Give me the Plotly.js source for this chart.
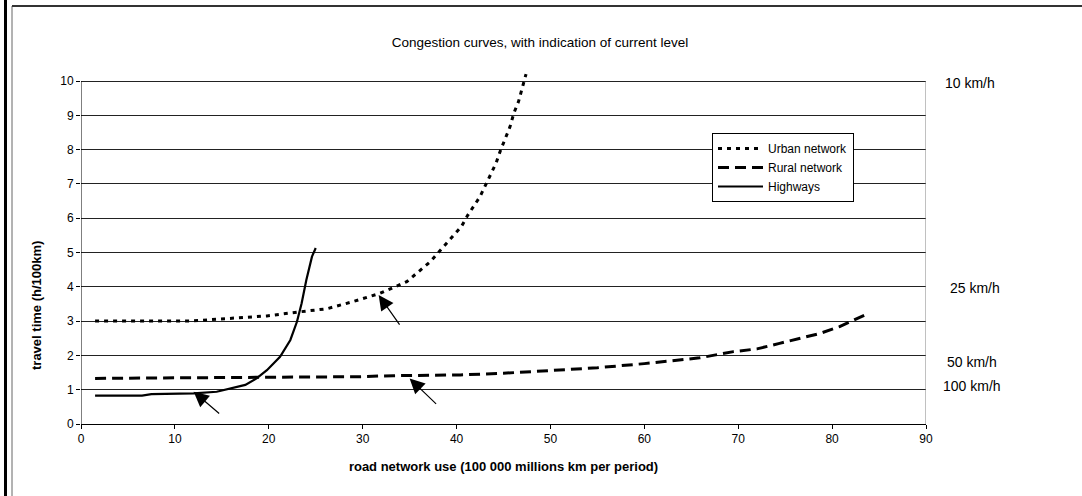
<!DOCTYPE html>
<html><head><meta charset="utf-8">
<script src="https://cdn.plot.ly/plotly-3.0.1.min.js"></script>
<style>html,body{margin:0;padding:0;background:#fff}#chart{width:1082px;height:496px}</style>
</head><body><div id="chart"></div>
<script>
// ---- data ----
const urbanX = [1.5, 5, 10, 11.6, 14.8, 19.8, 23.3, 26.2, 29.0, 31.85, 34.7, 37.2, 40.5, 41.2, 42.5, 43.1, 44.2, 44.7, 45.7, 46.1, 46.6, 47.4];
const urbanY = [3.0, 3.0, 3.0, 3.0, 3.06, 3.15, 3.27, 3.36, 3.57, 3.81, 4.15, 4.73, 5.75, 6.09, 6.63, 6.97, 7.6, 7.99, 8.67, 9.06, 9.4, 10.2];

const ruralX = [1.5, 10, 20, 29.7, 33.3, 40.4, 45, 50, 55, 60, 65.9, 69.5, 72, 74.4, 76.6, 78.7, 80.8, 83.5];
const ruralY = [1.33, 1.34, 1.36, 1.38, 1.41, 1.43, 1.48, 1.55, 1.64, 1.76, 1.93, 2.11, 2.19, 2.35, 2.5, 2.64, 2.84, 3.18];

const highwayX = [1.5, 6.5, 7.5, 12, 14.45, 15.9, 17.5, 18.7, 19.8, 21.2, 22.3, 23.0, 23.5, 24.0, 24.6, 25.0];
const highwayY = [0.83, 0.83, 0.87, 0.89, 0.94, 1.04, 1.14, 1.33, 1.57, 1.96, 2.45, 2.98, 3.52, 4.2, 4.88, 5.13];

const seriesNames = ['Urban network', 'Rural network', 'Highways'];

// current level per network (arrow tips)
const currentX = [31.7, 35.0, 12.0];
const currentY = [3.76, 1.33, 0.94];

const xTicks = [0, 10, 20, 30, 40, 50, 60, 70, 80, 90];
const yTicks = [0, 1, 2, 3, 4, 5, 6, 7, 8, 9, 10];

const speedLabels = ['10 km/h', '25 km/h', '50 km/h', '100 km/h'];

// ---- layout helpers ----
const W = 1082, H = 496;
const M = {l: 81, r: 156, t: 71, b: 72};
const PW = W - M.l - M.r, PH = H - M.t - M.b;
const px = v => (v - M.l) / PW;        // pixel x -> paper
const py = v => (H - M.b - v) / PH;    // pixel y -> paper

const FONT = 'Arial, "Liberation Sans", sans-serif';

const traces = [
  {x: urbanX, y: urbanY, name: seriesNames[0], mode: 'lines',
   line: {color: '#000', width: 3, dash: '4px,5px'}},
  {x: ruralX, y: ruralY, name: seriesNames[1], mode: 'lines',
   line: {color: '#000', width: 3, dash: '11px,6px'}},
  {x: highwayX, y: highwayY, name: seriesNames[2], mode: 'lines',
   line: {color: '#000', width: 2.2}}
];

const arrowOffsets = [[22, 31], [28, 27], [27, 23]];
const annotations = currentX.map((x, i) => ({
  x: x, y: currentY[i], xref: 'x', yref: 'y', text: '',
  showarrow: true, arrowhead: 2, arrowsize: 2.5, arrowwidth: 1.2,
  arrowcolor: '#000', ax: arrowOffsets[i][0], ay: arrowOffsets[i][1], standoff: 0
}));

const speedPos = [[943, 9.94], [948, 3.97], [945, 1.81], [941, 1.11]];
speedLabels.forEach((t, i) => annotations.push({
  text: t, xref: 'paper', yref: 'y', x: px(speedPos[i][0]), y: speedPos[i][1],
  xanchor: 'left', yanchor: 'middle', showarrow: false,
  font: {family: FONT, size: 14, color: '#000'}
}));

// y axis title (placed as in the reference, below the plot centre)
annotations.push({
  text: '<b>travel time (h/100km)</b>', textangle: -90,
  xref: 'paper', yref: 'paper', x: px(36), y: py(306),
  xanchor: 'center', yanchor: 'middle', showarrow: false,
  font: {family: FONT, size: 13, color: '#000'}
});

const shapes = [
  // y axis line 0..10
  {type: 'line', xref: 'x', yref: 'y', x0: 0, x1: 0, y0: 0, y1: 10, line: {color: '#000', width: 1}},
  // right border of plot area
  {type: 'line', xref: 'x', yref: 'y', x0: 90, x1: 90, y0: 0, y1: 10, line: {color: '#808080', width: 1}},
  // outer frame
  {type: 'line', xref: 'paper', yref: 'paper', x0: px(5.5), x1: px(5.5), y0: py(0), y1: py(H), line: {color: '#000', width: 3}},
  {type: 'line', xref: 'paper', yref: 'paper', x0: px(12), x1: px(12), y0: py(6), y1: py(H), line: {color: '#666', width: 1}},
  {type: 'line', xref: 'paper', yref: 'paper', x0: px(12), x1: px(W), y0: py(6), y1: py(6), line: {color: '#333', width: 2}}
];

const layout = {
  width: W, height: H, margin: M,
  paper_bgcolor: '#fff', plot_bgcolor: '#fff',
  font: {family: FONT, size: 12, color: '#000'},
  title: {text: 'Congestion curves, with indication of current level',
          font: {family: FONT, size: 13.5, color: '#000'},
          xref: 'paper', x: px(540), xanchor: 'center',
          yref: 'container', y: 1 - 42 / H, yanchor: 'middle'},
  xaxis: {range: [0, 90], tickvals: xTicks, ticks: 'outside', ticklen: 4, tickcolor: '#000',
          showline: true, linecolor: '#000', linewidth: 1, showgrid: false, zeroline: false,
          tickfont: {family: FONT, size: 12, color: '#000'},
          title: {text: '<b>road network use (100 000 millions km per period)</b>',
                  font: {family: FONT, size: 13, color: '#000'}, standoff: 16},
          automargin: false, fixedrange: true},
  yaxis: {range: [0, PH / 34.3], tickvals: yTicks, ticks: 'outside', ticklen: 4, tickcolor: '#000',
          showline: false, showgrid: true, gridcolor: '#222', gridwidth: 1, zeroline: false,
          tickfont: {family: FONT, size: 12, color: '#000'},
          automargin: false, fixedrange: true},
  legend: {x: px(712), y: py(133), xanchor: 'left', yanchor: 'top',
           bgcolor: '#fff', bordercolor: '#000', borderwidth: 1,
           font: {family: FONT, size: 12, color: '#000'}, itemwidth: 45, tracegroupgap: 0},
  showlegend: true,
  annotations: annotations,
  shapes: shapes
};

Plotly.newPlot('chart', traces, layout, {displayModeBar: false, staticPlot: true});
</script>
</body></html>
